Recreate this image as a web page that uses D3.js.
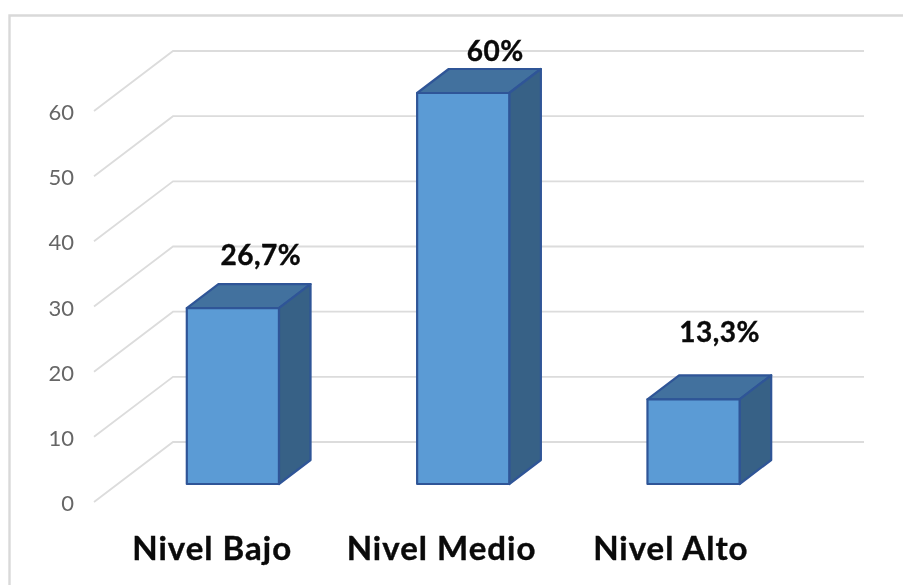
<!DOCTYPE html>
<html>
<head>
<meta charset="utf-8">
<script src="https://cdn.jsdelivr.net/npm/d3@7"></script>
<style>
html,body{margin:0;padding:0;background:#fff;overflow:hidden}
svg{display:block;filter:blur(0.45px)}
text{font-family:Lato,"Open Sans",sans-serif}
</style>
</head>
<body>
<svg id="chart" width="904" height="585"></svg>
<script>
const categories = ["Nivel Bajo", "Nivel Medio", "Nivel Alto"];
const values = [27, 60, 13];
const valueLabels = ["26,7%", "60%", "13,3%"];
const tickValues = [0, 10, 20, 30, 40, 50, 60];

// layout
const W = 904, H = 585;
const floorFront = 502, floorBack = 442;
const plotLeft = 94, plotRight = 785;
const depthX = 79, depthY = 60;
const barDepthStart = 0.3, barDepthEnd = 0.7;
const labelShift = [[28, -43], [32, -32], [26, -57]];
const catShift = [3, 2, 1];

const svg = d3.select("#chart");
const y = d3.scaleLinear().domain([0, 60]).range([floorFront, floorFront - 391]);
const x = d3.scaleBand().domain(categories).range([plotLeft, plotRight])
  .paddingInner(0.6).paddingOuter(0.3);

// frame
svg.append("path")
  .attr("d", `M9.5,${H}V15.5H${W - 1}`)
  .attr("fill", "none").attr("stroke", "#d9d9d9").attr("stroke-width", 2.4);

// 3D gridlines: side wall + back wall
const grid = svg.append("g").attr("fill", "none").attr("stroke", "#dcdcdc").attr("stroke-width", 1.8);
grid.selectAll("path").data(tickValues).join("path")
  .attr("d", d => d3.line()([
    [plotLeft, y(d)],
    [plotLeft + depthX, y(d) - depthY],
    [plotRight + depthX, y(d) - depthY]
  ]));

// value axis
const axis = d3.axisLeft(y).tickValues(tickValues).tickSize(0).tickPadding(20);
const axisG = svg.append("g").attr("transform", `translate(${plotLeft},0)`).call(axis);
axisG.select(".domain").remove();
axisG.selectAll("text")
  .attr("fill", "#666666")
  .style("font-size", "22px")
  .style("font-family", "Lato,'Open Sans',sans-serif")
  .attr("dy", "0.39em");

// bars
const dx0 = depthX * barDepthStart, dy0 = depthY * barDepthStart;
const dx = depthX * (barDepthEnd - barDepthStart), dy = depthY * (barDepthEnd - barDepthStart);
const bars = svg.append("g").selectAll("g")
  .data(categories.map((c, i) => ({c, v: values[i]})))
  .join("g")
  .attr("stroke", "#2f5597").attr("stroke-width", 2.2).attr("stroke-linejoin", "round");

bars.append("path").attr("fill", "#42719e")
  .attr("d", d => {
    const l = x(d.c) + dx0, r = l + x.bandwidth(), t = y(d.v) - dy0;
    return d3.line()([[l, t], [l + dx, t - dy], [r + dx, t - dy], [r, t]]) + "Z";
  });
bars.append("path").attr("fill", "#376186")
  .attr("d", d => {
    const r = x(d.c) + dx0 + x.bandwidth(), t = y(d.v) - dy0, b = y(0) - dy0;
    return d3.line()([[r, t], [r + dx, t - dy], [r + dx, b - dy], [r, b]]) + "Z";
  });
bars.append("rect").attr("fill", "#5b9bd5")
  .attr("x", d => x(d.c) + dx0)
  .attr("y", d => y(d.v) - dy0)
  .attr("width", x.bandwidth())
  .attr("height", d => y(0) - y(d.v));

// value labels
svg.append("g").selectAll("text").data(valueLabels).join("text")
  .attr("x", (d, i) => x(categories[i]) + x.bandwidth() / 2 + dx0 + labelShift[i][0])
  .attr("y", (d, i) => y(values[i]) - dy0 + labelShift[i][1])
  .attr("text-anchor", "middle")
  .attr("font-size", 28).attr("font-weight", 700).attr("fill", "#0a0a0a")
  .attr("stroke", "#0a0a0a").attr("stroke-width", 0.4)
  .attr("letter-spacing", 0.5)
  .text(d => d);

// category labels
svg.append("g").selectAll("text").data(categories).join("text")
  .attr("x", (d, i) => x(d) + x.bandwidth() / 2 + catShift[i])
  .attr("y", 560)
  .attr("text-anchor", "middle")
  .attr("font-size", 33).attr("font-weight", 700).attr("fill", "#0a0a0a")
  .attr("stroke", "#0a0a0a").attr("stroke-width", 0.4)
  .attr("letter-spacing", 1)
  .text(d => d);
</script>
</body>
</html>
